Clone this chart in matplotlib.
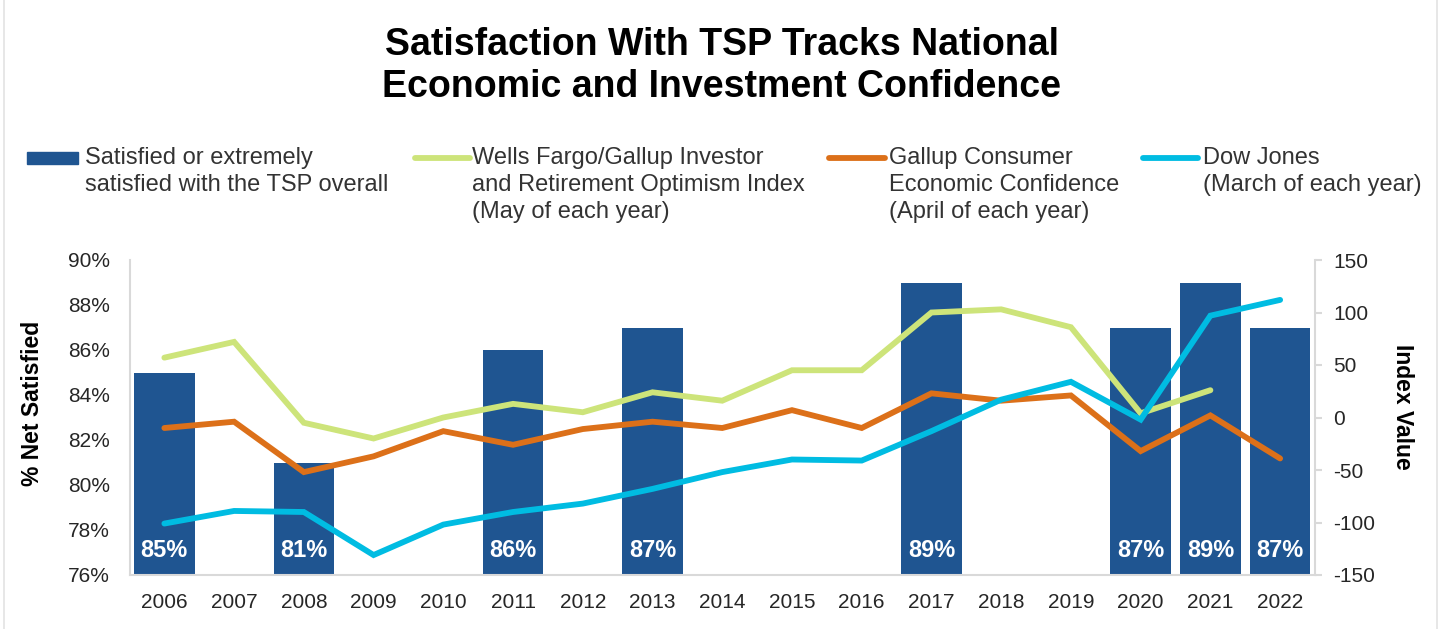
import matplotlib
matplotlib.use("Agg")
import matplotlib.pyplot as plt
from matplotlib.lines import Line2D
from matplotlib.patches import Rectangle
import numpy as np

plt.rcParams['font.family'] = ['Liberation Sans', 'DejaVu Sans']
plt.rcParams['axes.unicode_minus'] = False

years = [str(y) for y in range(2006, 2023)]
satisfied = [85, None, 81, None, None, 86, None, 87, None, None, None, 89, None, None, 87, 89, 87]
wells_fargo = [57, 72, -5, -20, 0, 13, 5, 24, 16, 45, 45, 100, 103, 86, 4, 26, None]
gallup = [-10, -4, -52, -37, -13, -26, -11, -4, -10, 7, -10, 23, 16, 21, -32, 2, -39]
dow_jones = [-101, -89, -90, -131, -102, -90, -82, -68, -52, -40, -41, -13, 17, 34, -2, 97, 112]

left_ticks = [76, 78, 80, 82, 84, 86, 88, 90]
right_ticks = [-150, -100, -50, 0, 50, 100, 150]

legend_labels = [
    ["Satisfied or extremely", "satisfied with the TSP overall"],
    ["Wells Fargo/Gallup Investor", "and Retirement Optimism Index", "(May of each year)"],
    ["Gallup Consumer", "Economic Confidence", "(April of each year)"],
    ["Dow Jones", "(March of each year)"],
]

BAR = '#1F5591'
GREEN = '#CDE47A'
ORANGE = '#DC7019'
CYAN = '#00BCE2'
GRID = '#D9D9D9'
TXT = '#262626'

W, H = 1442, 629
fig = plt.figure(figsize=(W / 100, H / 100), dpi=100)
ax = fig.add_axes([129.5 / W, 1 - 575 / H, (1315 - 129.5) / W, (575 - 260) / H])
ax2 = ax.twinx()

x = np.arange(len(years))
bx = [i for i, v in enumerate(satisfied) if v is not None]
bv = [v for v in satisfied if v is not None]
ax.bar(bx, bv, width=0.87, color=BAR, zorder=2)
for xi, v in zip(bx, bv):
    ax.text(xi, 77.1, f"{v}%", color='white', fontsize=17, fontweight='bold',
            ha='center', va='center', zorder=3)

ax.set_ylim(76, 90)
ax.set_xlim(-0.5, len(years) - 0.5)
ax.set_yticks(left_ticks)
ax.set_yticklabels([f"{t}%" for t in left_ticks])
ax.set_xticks(x)
ax.set_xticklabels(years)
ax.tick_params(axis='x', length=0, pad=13, labelsize=15, labelcolor=TXT)
ax.tick_params(axis='y', length=0, pad=14, labelsize=15, labelcolor=TXT)
for s in ['top', 'right']:
    ax.spines[s].set_visible(False)
for s in ['left', 'bottom']:
    ax.spines[s].set_color(GRID)
    ax.spines[s].set_linewidth(1.5)

def series(vals):
    xs = [i for i, v in enumerate(vals) if v is not None]
    ys = [v for v in vals if v is not None]
    return xs, ys

lw = 4.2
for vals, c in [(wells_fargo, GREEN), (gallup, ORANGE), (dow_jones, CYAN)]:
    xs, ys = series(vals)
    ax2.plot(xs, ys, color=c, lw=lw, solid_capstyle='round', solid_joinstyle='miter', zorder=3)

ax2.set_ylim(-150, 150)
ax2.set_yticks(right_ticks)
ax2.tick_params(axis='y', length=5, width=1.5, color=GRID, pad=8, labelsize=15, labelcolor=TXT)
for s in ['top', 'left', 'bottom']:
    ax2.spines[s].set_visible(False)
ax2.spines['right'].set_color(GRID)
ax2.spines['right'].set_linewidth(1.5)

# axis titles
fig.text(33 / W, 1 - 403 / H, "% Net Satisfied", rotation=90, fontsize=16.5,
         fontweight='bold', ha='center', va='center', color='black')
fig.text(1402 / W, 1 - 407 / H, "Index Value", rotation=-90, fontsize=16.5,
         fontweight='bold', ha='center', va='center', color='black')

# title
fig.text(722 / W, 1 - 45 / H, "Satisfaction With TSP Tracks National", fontsize=27,
         fontweight='bold', ha='center', va='center', color='black')
fig.text(722 / W, 1 - 87 / H, "Economic and Investment Confidence", fontsize=27,
         fontweight='bold', ha='center', va='center', color='black')

# legend (manual)
handle_x = [(27, 78), (415, 470), (829, 885), (1143, 1198)]
text_x = [85, 472, 889, 1203]
colors = [BAR, GREEN, ORANGE, CYAN]
line_y = [158, 185, 212]
for i in range(4):
    x0, x1 = handle_x[i]
    if i == 0:
        fig.patches.append(Rectangle((x0 / W, 1 - 164 / H), (x1 - x0) / W, 12 / H,
                                     transform=fig.transFigure, color=BAR))
    else:
        fig.lines.append(Line2D([x0 / W, x1 / W], [1 - 158 / H, 1 - 158 / H],
                                transform=fig.transFigure, color=colors[i], lw=lw,
                                solid_capstyle='round'))
    for j, t in enumerate(legend_labels[i]):
        fig.text(text_x[i] / W, 1 - line_y[j] / H, t, fontsize=17, ha='left',
                 va='center', color='#333333')

# outer frame lines
fig.lines.append(Line2D([4 / W, 4 / W], [0, 1], transform=fig.transFigure, color='#E3E3E3', lw=1.2))
fig.lines.append(Line2D([1437 / W, 1437 / W], [0, 1], transform=fig.transFigure, color='#E3E3E3', lw=1.2))

fig.savefig("out.png", dpi=100)
